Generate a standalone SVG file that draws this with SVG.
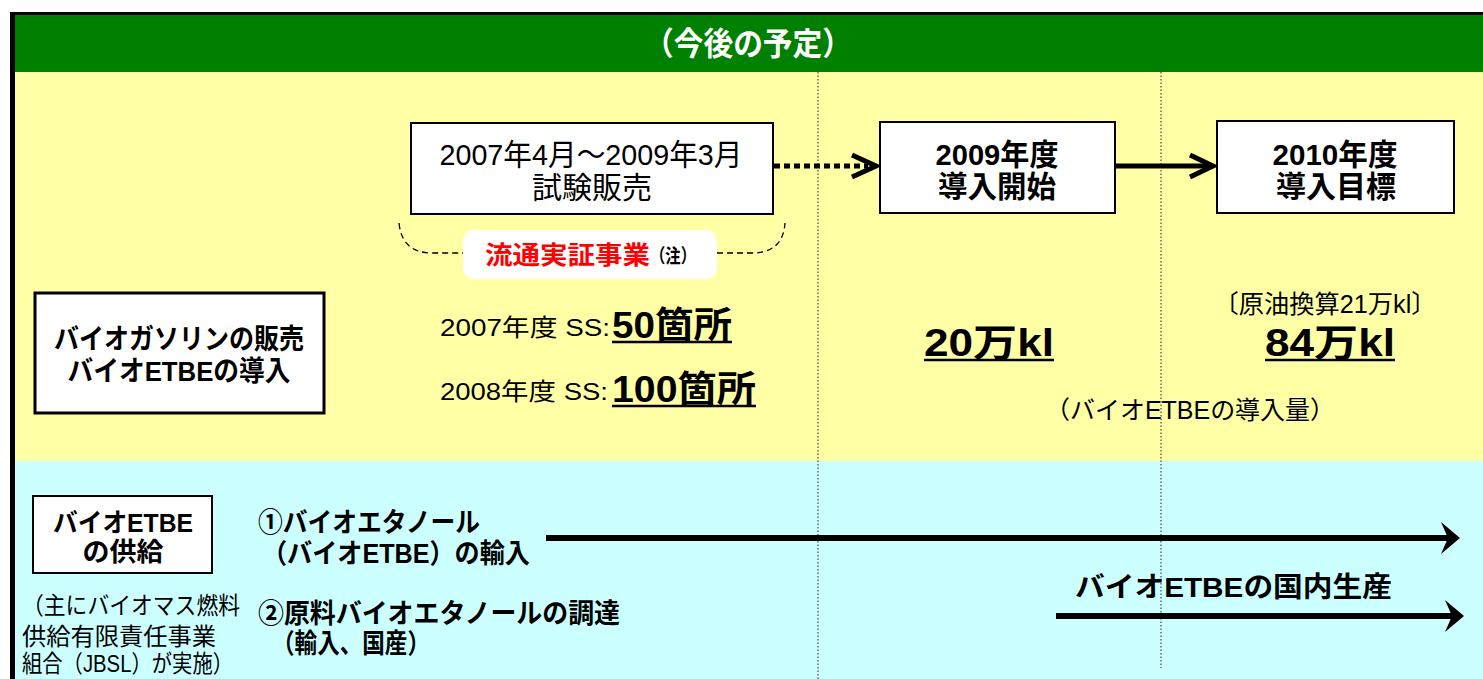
<svg xmlns="http://www.w3.org/2000/svg" width="1483" height="679" viewBox="0 0 1483 679">
<defs>
<style>
.t{font-family:"Liberation Sans","Noto Sans CJK JP",sans-serif;fill:#000}
.b{font-weight:bold}
.box{fill:#fff;stroke:#000;stroke-width:2}
.vd{stroke:#222;stroke-width:1;stroke-dasharray:1.5 2}
.ul{stroke:#000;stroke-width:2.5}
</style>
</defs>
<g id="background">
<rect x="15" y="15" width="1468" height="57" fill="#008000"/>
<rect x="15" y="72" width="1468" height="389" fill="#FFFFA6"/>
<rect x="15" y="461" width="1468" height="218" fill="#CCFFFF"/>
<rect x="10" y="12" width="1473" height="3" fill="#000"/>
<rect x="10" y="12" width="5" height="667" fill="#000"/>
<line class="vd" x1="818" y1="72" x2="818" y2="679"/>
<line class="vd" x1="1161" y1="72" x2="1161" y2="668"/>
</g>
<g id="header">
<text class="t b" x="748" y="55" font-size="32" text-anchor="middle" style="fill:#fff" textLength="208" lengthAdjust="spacingAndGlyphs">（今後の予定）</text>
</g>
<g id="connectors">
<line x1="774" y1="166" x2="868" y2="166" stroke="#000" stroke-width="5" stroke-dasharray="6 4"/>
<polyline points="852,155 876,166 852,177" fill="none" stroke="#000" stroke-width="5" stroke-linejoin="miter"/>
<line x1="1116" y1="166" x2="1210" y2="166" stroke="#000" stroke-width="5"/>
<polyline points="1190,155 1213,166 1190,177" fill="none" stroke="#000" stroke-width="5"/>
<line x1="546" y1="538" x2="1450" y2="538" stroke="#000" stroke-width="6"/>
<polygon points="1460,538 1441,522 1448,538 1441,554" fill="#000"/>
<line x1="1056" y1="616" x2="1452" y2="616" stroke="#000" stroke-width="6"/>
<polygon points="1464,616 1445,600 1452,616 1445,632" fill="#000"/>
</g>
<g id="trial">
<rect class="box" x="411" y="123" width="362" height="91"/>
<text class="t" x="591" y="165" font-size="30" text-anchor="middle" textLength="303" lengthAdjust="spacingAndGlyphs">2007年4月～2009年3月</text>
<text class="t" x="592" y="198" font-size="30" text-anchor="middle" textLength="120" lengthAdjust="spacingAndGlyphs">試験販売</text>
</g>
<g id="brace">
<path d="M399,223 Q402,253 432,253 L465,253 M717,253 L752,253 Q783,253 785,223" fill="none" stroke="#000" stroke-width="1.3" stroke-dasharray="6 4"/>
<rect x="463" y="230" width="254" height="49" rx="11" fill="#fff"/>
<text class="t b" x="485" y="264" font-size="25" style="fill:#FF0000" textLength="165" lengthAdjust="spacingAndGlyphs">流通実証事業</text>
<text class="t b" x="650" y="263" font-size="19" textLength="46" lengthAdjust="spacingAndGlyphs">（注）</text>
</g>
<g id="start2009">
<rect class="box" x="880" y="122" width="235" height="91"/>
<text class="t b" x="997" y="165" font-size="30" text-anchor="middle" textLength="123" lengthAdjust="spacingAndGlyphs">2009年度</text>
<text class="t b" x="997" y="197" font-size="30" text-anchor="middle" textLength="118" lengthAdjust="spacingAndGlyphs">導入開始</text>
</g>
<g id="target2010">
<rect class="box" x="1217" y="121" width="237" height="92"/>
<text class="t b" x="1335" y="165" font-size="30" text-anchor="middle" textLength="125" lengthAdjust="spacingAndGlyphs">2010年度</text>
<text class="t b" x="1336" y="197" font-size="30" text-anchor="middle" textLength="120" lengthAdjust="spacingAndGlyphs">導入目標</text>
</g>
<g id="sales">
<rect x="35" y="293" width="289" height="120" fill="#fff" stroke="#000" stroke-width="3"/>
<text class="t b" x="179" y="349" font-size="28" text-anchor="middle" textLength="250" lengthAdjust="spacingAndGlyphs">バイオガソリンの販売</text>
<text class="t b" x="179" y="381" font-size="28" text-anchor="middle" textLength="223" lengthAdjust="spacingAndGlyphs">バイオETBEの導入</text>
</g>
<g id="ss">
<text class="t" x="440" y="336" font-size="24" textLength="170" lengthAdjust="spacingAndGlyphs">2007年度  SS:</text>
<text class="t b" x="612" y="338" font-size="36" textLength="120" lengthAdjust="spacingAndGlyphs">50箇所</text>
<line class="ul" x1="612" y1="342" x2="732" y2="342"/>
<text class="t" x="440" y="400" font-size="24" textLength="168" lengthAdjust="spacingAndGlyphs">2008年度  SS:</text>
<text class="t b" x="612" y="402" font-size="36" textLength="144" lengthAdjust="spacingAndGlyphs">100箇所</text>
<line class="ul" x1="612" y1="406" x2="756" y2="406"/>
</g>
<g id="volume">
<text class="t b" x="989" y="356" font-size="38" text-anchor="middle" textLength="130" lengthAdjust="spacingAndGlyphs">20万kl</text>
<line class="ul" x1="924" y1="360" x2="1054" y2="360"/>
<text class="t" x="1325" y="313" font-size="25" text-anchor="middle" textLength="223" lengthAdjust="spacingAndGlyphs">〔原油換算21万kl〕</text>
<text class="t b" x="1330" y="356" font-size="38" text-anchor="middle" textLength="130" lengthAdjust="spacingAndGlyphs">84万kl</text>
<line class="ul" x1="1265" y1="360" x2="1395" y2="360"/>
<text class="t" x="1190" y="419" font-size="25" text-anchor="middle" textLength="290" lengthAdjust="spacingAndGlyphs">（バイオETBEの導入量）</text>
</g>
<g id="supply">
<rect class="box" x="33" y="496" width="179" height="77" stroke-width="2.5"/>
<text class="t b" x="123" y="532" font-size="26" text-anchor="middle" textLength="140" lengthAdjust="spacingAndGlyphs">バイオETBE</text>
<text class="t b" x="123" y="561" font-size="26" text-anchor="middle" textLength="81" lengthAdjust="spacingAndGlyphs">の供給</text>
<text class="t" x="22" y="614" font-size="24" textLength="218" lengthAdjust="spacingAndGlyphs">（主にバイオマス燃料</text>
<text class="t" x="22" y="645" font-size="24" textLength="194" lengthAdjust="spacingAndGlyphs">供給有限責任事業</text>
<text class="t" x="22" y="672" font-size="24" textLength="211" lengthAdjust="spacingAndGlyphs">組合（JBSL）が実施）</text>
</g>
<g id="import">
<text class="t b" x="258" y="532" font-size="27" textLength="222" lengthAdjust="spacingAndGlyphs">①バイオエタノール</text>
<text class="t b" x="262" y="563" font-size="27" textLength="268" lengthAdjust="spacingAndGlyphs">（バイオETBE）の輸入</text>
</g>
<g id="procure">
<text class="t b" x="258" y="623" font-size="27" textLength="362" lengthAdjust="spacingAndGlyphs">②原料バイオエタノールの調達</text>
<text class="t b" x="272" y="653" font-size="27" textLength="158" lengthAdjust="spacingAndGlyphs">（輸入、国産）</text>
</g>
<g id="domestic">
<text class="t b" x="1075" y="597" font-size="28" textLength="317" lengthAdjust="spacingAndGlyphs">バイオETBEの国内生産</text>
</g>
</svg>
